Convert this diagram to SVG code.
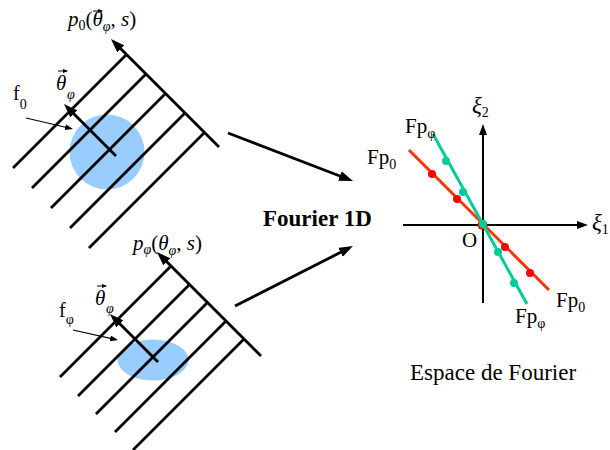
<svg xmlns="http://www.w3.org/2000/svg" width="610" height="450" viewBox="0 0 610 450">
<style>
.ln{stroke:#000;stroke-width:2.8;fill:none}
.th{stroke:#000;stroke-width:1.1;fill:none}
.ax{stroke:#000;stroke-width:2;fill:none}
.vec{stroke:#000;stroke-width:1;fill:none}
text{font-family:"Liberation Serif","Times New Roman",serif;fill:#000}
.it{font-style:italic}
.blob{fill:#99ccff}
.red{stroke:#ff3300;stroke-width:3;fill:none}
.grn{stroke:#00cc99;stroke-width:3;fill:none}
.rd{fill:#ff0000}
.gd{fill:#00cc99}
</style>
<defs>
<marker id="big" markerUnits="userSpaceOnUse" viewBox="0 0 14 10" markerWidth="14" markerHeight="10" refX="9" refY="5" orient="auto"><path d="M0,0 L14,5 L0,10 z" fill="#000"/></marker>
<marker id="axh" markerUnits="userSpaceOnUse" viewBox="0 0 11 8" markerWidth="11" markerHeight="8" refX="7" refY="4" orient="auto"><path d="M0,0 L11,4 L0,8 z" fill="#000"/></marker>
<marker id="sm" markerUnits="userSpaceOnUse" viewBox="0 0 8 6" markerWidth="8" markerHeight="6" refX="6" refY="3" orient="auto"><path d="M0,0 L8,3 L0,6 z" fill="#000"/></marker>
<marker id="vh" markerUnits="userSpaceOnUse" viewBox="0 0 5 4" markerWidth="5" markerHeight="4" refX="4" refY="2" orient="auto"><path d="M0,0 L5,2 L0,4 z" fill="#000"/></marker>
</defs>

<g id="projection-0">
<circle class="blob" cx="107" cy="152" r="37.5"/>
<path class="ln" d="M126.5,54.5 L13,168 M146,74 L32,188 M165.5,93.5 L51,208 M185,113 L70,228 M204.5,132.5 L89,248"/>
<line class="ln" x1="219" y1="147" x2="114.5" y2="42.5" marker-end="url(#big)"/>
<line class="ln" x1="116" y1="156" x2="67.5" y2="107.5" marker-end="url(#big)"/>
<text x="68" y="26" font-size="21"><tspan class="it">p</tspan><tspan font-size="14" dy="4">0</tspan><tspan dy="-4">(</tspan><tspan class="it">θ</tspan><tspan class="it" font-size="14" dy="5">φ</tspan><tspan dy="-5">, </tspan><tspan class="it">s</tspan>)</text>
<line class="vec" x1="93" y1="11" x2="102" y2="11" marker-end="url(#vh)"/>
<text x="56" y="90" font-size="21" class="it">θ</text>
<text x="67" y="99" font-size="14" class="it">φ</text>
<line class="vec" x1="58" y1="71" x2="67" y2="71" marker-end="url(#vh)"/>
<text x="13" y="100" font-size="20">f<tspan font-size="14" dy="9">0</tspan></text>
<line class="th" x1="26" y1="118" x2="71" y2="128.5" marker-end="url(#sm)"/>
</g>

<g id="projection-phi">
<ellipse class="blob" cx="153" cy="360" rx="35.5" ry="20.5"/>
<path class="ln" d="M171,266 L60,377 M189.5,284.5 L78,396 M207.5,302.5 L96,414 M226,321 L115,432 M244,339 L133,450"/>
<line class="ln" x1="261" y1="356" x2="160.5" y2="255.5" marker-end="url(#big)"/>
<line class="ln" x1="158" y1="362" x2="113.5" y2="317.5" marker-end="url(#big)"/>
<text x="133" y="250" font-size="21"><tspan class="it">p</tspan><tspan class="it" font-size="14" dy="4">φ</tspan><tspan dy="-4">(</tspan><tspan class="it">θ</tspan><tspan class="it" font-size="14" dy="5">φ</tspan><tspan dy="-5">, </tspan><tspan class="it">s</tspan>)</text>
<text x="95" y="305" font-size="21" class="it">θ</text>
<text x="106" y="313" font-size="14" class="it">φ</text>
<line class="vec" x1="97" y1="286" x2="106" y2="286" marker-end="url(#vh)"/>
<text x="59" y="317" font-size="20">f<tspan font-size="14" dy="7">φ</tspan></text>
<line class="th" x1="73" y1="330" x2="116" y2="339.6" marker-end="url(#sm)"/>
</g>

<g id="connectors">
<line class="ln" x1="228" y1="133" x2="348.3" y2="179.2" marker-end="url(#big)"/>
<line class="ln" x1="235" y1="306" x2="348.5" y2="248.3" marker-end="url(#big)"/>
</g>

<g id="fourier-label">
<text x="263" y="226" font-size="23" font-weight="bold">Fourier 1D</text>
</g>

<g id="fourier-space">
<line class="ax" x1="403" y1="225" x2="584" y2="225" marker-end="url(#axh)"/>
<line class="ax" x1="483" y1="303" x2="483" y2="128" marker-end="url(#axh)"/>
<line class="red" x1="409" y1="150" x2="549" y2="290"/>
<circle class="rd" cx="432" cy="174" r="4"/>
<circle class="rd" cx="457" cy="199" r="4"/>
<circle class="rd" cx="505" cy="247" r="4"/>
<circle class="rd" cx="530" cy="273" r="4"/>
<circle class="rd" cx="482" cy="225" r="4.5"/>
<line class="grn" x1="433" y1="134" x2="527" y2="304"/>
<circle class="gd" cx="446" cy="161" r="4"/>
<circle class="gd" cx="463" cy="192" r="4"/>
<circle class="gd" cx="483" cy="224" r="4"/>
<circle class="gd" cx="498" cy="252" r="4"/>
<circle class="gd" cx="514" cy="283" r="4"/>
<text x="472" y="113" font-size="23" class="it">ξ<tspan font-size="14" font-style="normal" dy="4">2</tspan></text>
<text x="592" y="230" font-size="23" class="it">ξ<tspan font-size="14" font-style="normal" dy="4">1</tspan></text>
<text x="462" y="247" font-size="21">O</text>
<text x="405" y="133" font-size="21">Fp<tspan font-size="14" dy="5">φ</tspan></text>
<text x="367" y="164" font-size="21">Fp<tspan font-size="14" dy="5">0</tspan></text>
<text x="556" y="307" font-size="21">Fp<tspan font-size="14" dy="5">0</tspan></text>
<text x="515" y="323" font-size="21">Fp<tspan font-size="14" dy="5">φ</tspan></text>
<text x="410" y="380" font-size="23">Espace de Fourier</text>
</g>
</svg>
